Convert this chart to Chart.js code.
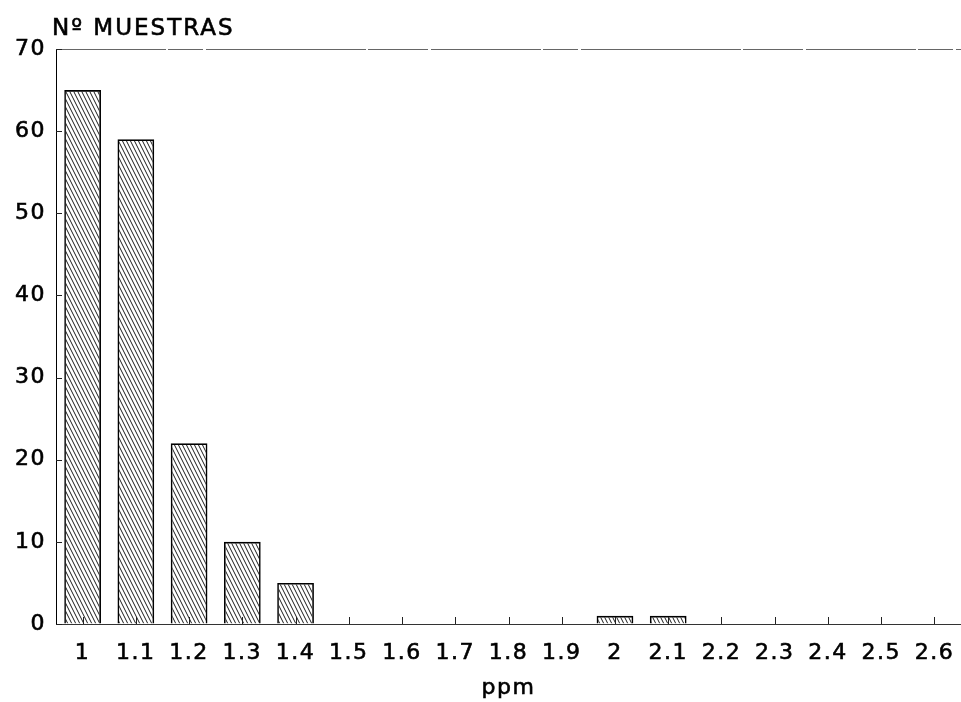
<!DOCTYPE html>
<html>
<head>
<meta charset="utf-8">
<script src="https://cdn.jsdelivr.net/npm/chart.js@4/dist/chart.umd.min.js"></script>
<style>
  html, body { margin: 0; padding: 0; background: #fff; overflow: hidden; }
  #wrap { width: 961px; height: 702px; position: relative; }
</style>
</head>
<body>
<div id="wrap"><canvas id="c" width="961" height="702"></canvas></div>
<script>
// Concentration classes (ppm) and number of samples in each class
const categories = ['1', '1.1', '1.2', '1.3', '1.4', '1.5', '1.6', '1.7', '1.8', '1.9', '2', '2.1', '2.2', '2.3', '2.4', '2.5', '2.6'];
const muestras = [65, 59, 22, 10, 5, 0, 0, 0, 0, 0, 1, 1, 0, 0, 0, 0, 0];
const yTicks = [0, 10, 20, 30, 40, 50, 60, 70];
const yTitle = 'Nº MUESTRAS';
const xTitle = 'ppm';

const FONT = "'DejaVu Sans', Verdana, sans-serif";

// Diagonal hatch fill ("\\\\") for the bars
function hatchPattern() {
  const t = document.createElement('canvas');
  t.width = 4; t.height = 8;
  const g = t.getContext('2d');
  g.strokeStyle = '#000';
  g.lineWidth = 0.9;
  for (let k = -1; k <= 1; k++) {
    g.beginPath();
    g.moveTo(k * 4, 0);
    g.lineTo(k * 4 + 4, 8);
    g.stroke();
  }
  return document.getElementById('c').getContext('2d').createPattern(t, 'repeat');
}

// Slight letter spacing for the wide labels
const spacing = {
  id: 'spacing',
  beforeDraw(chart) { chart.ctx.letterSpacing = '1.5px'; }
};

// Inside tick marks, top frame line and the vertical axis title
const frame = {
  id: 'frame',
  afterDatasetsDraw(chart) {
    const { ctx, chartArea, scales } = chart;
    const x = scales.x, y = scales.y;
    ctx.save();
    ctx.lineWidth = 1;
    // top line
    ctx.setLineDash([110, 2, 35, 3, 160, 2, 60, 3]);
    ctx.strokeStyle = '#666';
    ctx.beginPath();
    ctx.moveTo(chartArea.left, chartArea.top + 0.5);
    ctx.lineTo(chartArea.right, chartArea.top + 0.5);
    ctx.stroke();
    ctx.setLineDash([]);
    ctx.strokeStyle = '#222';
    // y ticks
    y.ticks.forEach((t, i) => {
      const py = Math.round(y.getPixelForTick(i)) + 0.5;
      ctx.beginPath();
      ctx.moveTo(chartArea.left, py);
      ctx.lineTo(chartArea.left + 6, py);
      ctx.stroke();
    });
    // x ticks
    x.ticks.forEach((t, i) => {
      const px = Math.round(x.getPixelForTick(i)) + 0.5;
      ctx.beginPath();
      ctx.moveTo(px, chartArea.bottom);
      ctx.lineTo(px, chartArea.bottom - 7);
      ctx.stroke();
    });
    ctx.restore();
  },
  afterDraw(chart) {
    const { ctx, chartArea, scales } = chart;
    ctx.save();
    ctx.fillStyle = '#000';
    ctx.strokeStyle = '#000';
    ctx.lineWidth = 0.6;
    ctx.font = '23px ' + FONT;
    ctx.letterSpacing = '2px';
    ctx.textBaseline = 'alphabetic';
    ctx.textAlign = 'left';
    ctx.fillText(yTitle, chartArea.left - 4, 35);
    ctx.strokeText(yTitle, chartArea.left - 4, 35);
    // heavier stroke for the horizontal axis title, over the one the scale draws
    ctx.font = '22px ' + FONT;
    ctx.letterSpacing = '1.5px';
    ctx.textAlign = 'center';
    ctx.textBaseline = 'middle';
    ctx.strokeText(xTitle, (chartArea.left + chartArea.right) / 2, scales.x.bottom - 1 - 22 * 1.2 / 2);
    ctx.restore();
  }
};

new Chart(document.getElementById('c'), {
  type: 'bar',
  data: {
    labels: categories,
    datasets: [{
      data: muestras,
      backgroundColor: hatchPattern(),
      borderColor: '#000',
      borderWidth: 1.6,
      borderSkipped: 'bottom',
      barPercentage: 0.69,
      categoryPercentage: 1.0
    }]
  },
  options: {
    responsive: false,
    animation: false,
    events: [],
    layout: { padding: { top: 49, right: 0, bottom: 0, left: 0 } },
    plugins: {
      legend: { display: false },
      tooltip: { enabled: false },
      title: { display: false }
    },
    scales: {
      x: {
        grid: { display: true, drawOnChartArea: false, drawTicks: true, tickLength: 14, tickColor: 'rgba(0,0,0,0)' },
        border: { display: true, color: '#333', width: 1 },
        ticks: {
          color: '#000',
          font: { family: FONT, size: 22 },
          textStrokeColor: '#000',
          textStrokeWidth: 0.6,
          padding: 2,
          maxRotation: 0,
          autoSkip: false
        },
        title: {
          display: true,
          text: xTitle,
          color: '#000',
          font: { family: FONT, size: 22, lineHeight: 1.2 },
          padding: { top: 0, bottom: 1 }
        },
        afterFit(scale) { scale.height = 78; }
      },
      y: {
        min: 0,
        max: 70,
        afterBuildTicks(scale) { scale.ticks = yTicks.map(v => ({ value: v })); },
        grid: { display: true, drawOnChartArea: false, drawTicks: false },
        border: { display: true, color: '#000', width: 1 },
        ticks: {
          color: '#000',
          font: { family: FONT, size: 22 },
          textStrokeColor: '#000',
          textStrokeWidth: 0.6,
          padding: 10
        },
        afterFit(scale) { scale.width = 56; }
      }
    }
  },
  plugins: [spacing, frame]
});
</script>
</body>
</html>
